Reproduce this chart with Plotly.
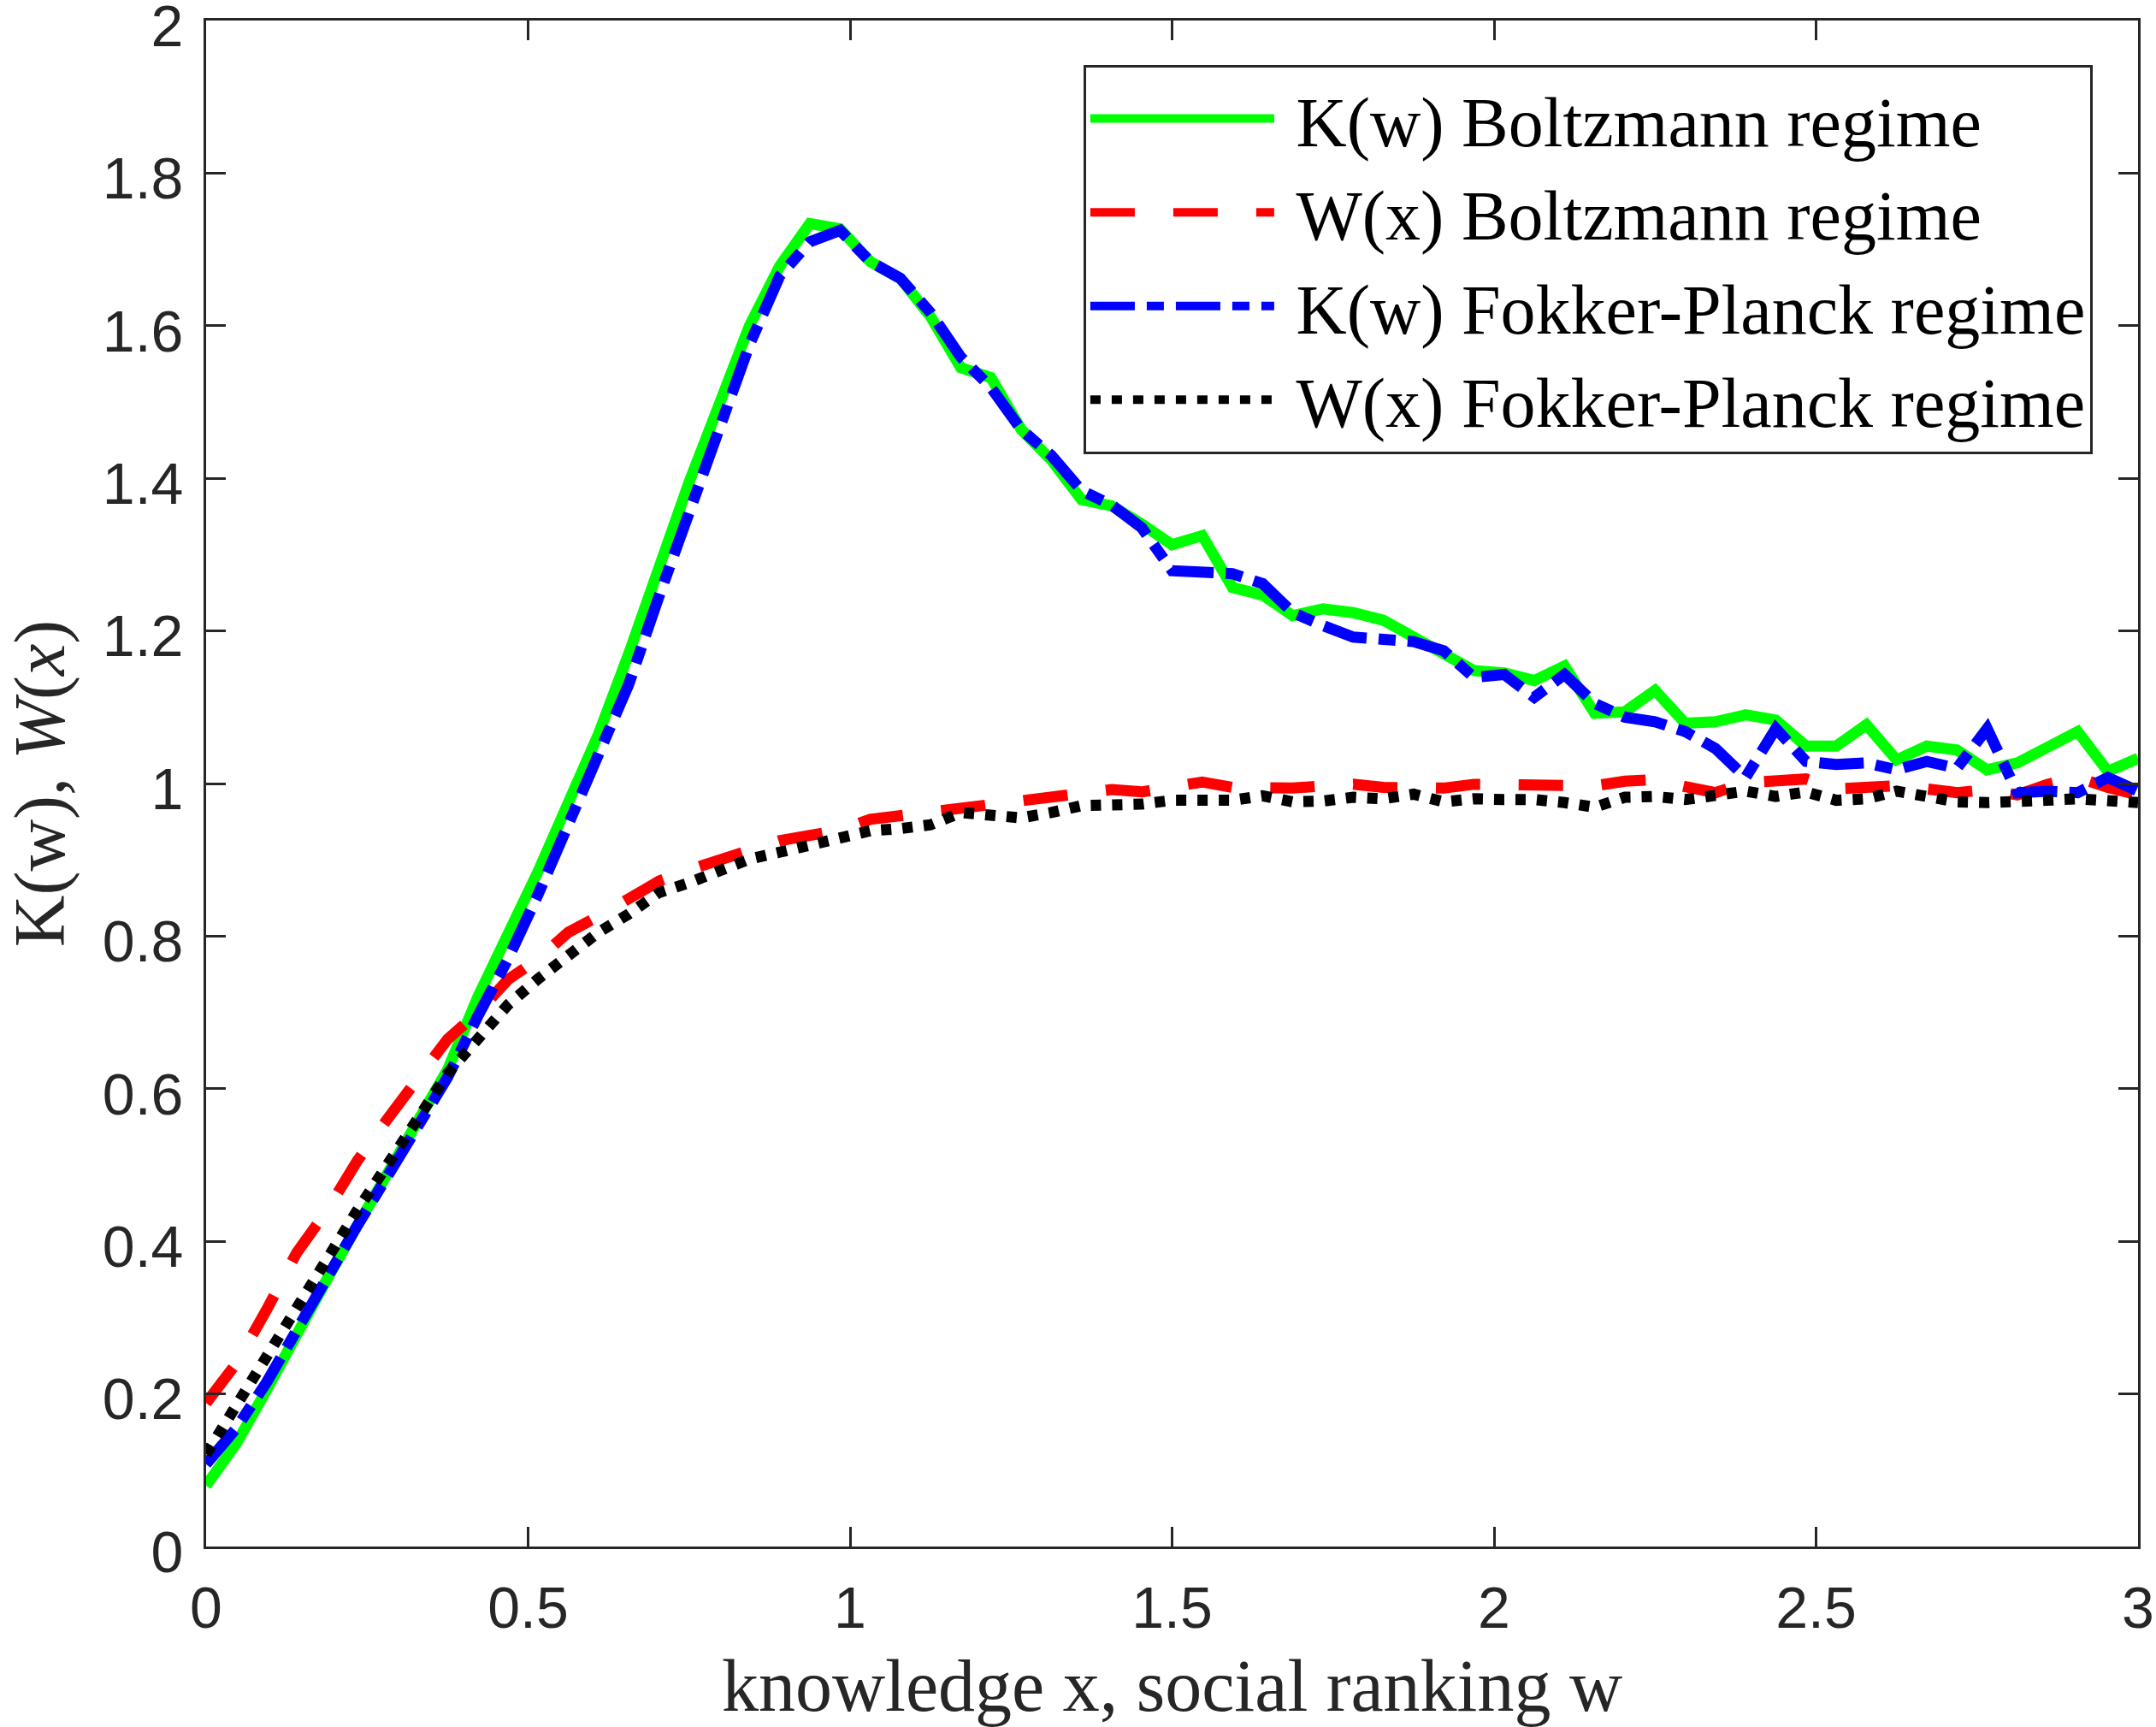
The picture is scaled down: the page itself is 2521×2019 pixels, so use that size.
import numpy as np
import plotly.graph_objects as go

# grid: 65 points from 0 to 3 (step 3/64)
x = np.linspace(0, 3, 65)

k_boltz = [0.08, 0.135, 0.205, 0.28, 0.35, 0.42, 0.49, 0.555, 0.625, 0.72,
           0.80, 0.885, 0.975, 1.065, 1.17, 1.285, 1.395, 1.497, 1.60, 1.678,
           1.734, 1.727, 1.684, 1.662, 1.612, 1.545, 1.532, 1.464, 1.424, 1.372,
           1.364, 1.340, 1.313, 1.325, 1.257, 1.247, 1.220, 1.229, 1.224, 1.214,
           1.190, 1.170, 1.148, 1.145, 1.135, 1.154, 1.092, 1.094, 1.122, 1.079,
           1.081, 1.090, 1.083, 1.049, 1.049, 1.077, 1.031, 1.049, 1.044, 1.018,
           1.027, 1.048, 1.068, 1.016, 1.033]

w_boltz = [0.188, 0.24, 0.31, 0.385, 0.44, 0.505, 0.56, 0.61, 0.665, 0.70,
           0.743, 0.77, 0.805, 0.826, 0.85, 0.872, 0.887, 0.90, 0.915, 0.925,
           0.932, 0.939, 0.953, 0.958, 0.965, 0.970, 0.975, 0.980, 0.985, 0.988,
           0.992, 0.989, 0.994, 1.002, 0.995, 0.994, 0.994, 0.997, 0.999, 0.995,
           0.996, 0.994, 0.999, 0.999, 0.999, 0.997, 0.997, 1.003, 1.005, 0.996,
           0.988, 1.001, 1.004, 1.006, 0.993, 0.995, 0.997, 0.993, 0.988, 0.992,
           0.985, 0.999, 1.008, 0.995, 0.985]

k_fp = [0.108, 0.155, 0.215, 0.285, 0.35, 0.42, 0.485, 0.55, 0.615, 0.695,
        0.77, 0.855, 0.945, 1.035, 1.13, 1.245, 1.36, 1.465, 1.575, 1.665,
        1.710, 1.725, 1.684, 1.662, 1.617, 1.559, 1.519, 1.464, 1.430, 1.384,
        1.365, 1.335, 1.279, 1.277, 1.275, 1.262, 1.224, 1.207, 1.192, 1.189,
        1.186, 1.174, 1.139, 1.143, 1.113, 1.143, 1.105, 1.087, 1.081, 1.068,
        1.046, 1.008, 1.072, 1.029, 1.025, 1.027, 1.018, 1.029, 1.020, 1.072,
        0.988, 0.990, 0.988, 1.008, 0.990]

w_fp = [0.121, 0.185, 0.25, 0.315, 0.38, 0.44, 0.50, 0.56, 0.62, 0.665,
        0.71, 0.744, 0.775, 0.805, 0.829, 0.857, 0.870, 0.885, 0.901, 0.910,
        0.919, 0.929, 0.938, 0.941, 0.946, 0.962, 0.959, 0.955, 0.962, 0.971,
        0.972, 0.973, 0.978, 0.979, 0.978, 0.984, 0.976, 0.977, 0.982, 0.980,
        0.986, 0.976, 0.980, 0.979, 0.979, 0.975, 0.969, 0.982, 0.983, 0.979,
        0.986, 0.990, 0.983, 0.989, 0.978, 0.980, 0.990, 0.983, 0.976, 0.975,
        0.975, 0.978, 0.980, 0.978, 0.975]

xticks = [0, 0.5, 1, 1.5, 2, 2.5, 3]
xtick_text = ["0", "0.5", "1", "1.5", "2", "2.5", "3"]
yticks = [0, 0.2, 0.4, 0.6, 0.8, 1, 1.2, 1.4, 1.6, 1.8, 2]
ytick_text = ["0", "0.2", "0.4", "0.6", "0.8", "1", "1.2", "1.4", "1.6", "1.8", "2"]

LW = 13
sp = "\u00a0"  # small gap between legend sample and label
fig = go.Figure()
fig.add_trace(go.Scatter(x=x, y=k_boltz, mode="lines", name=sp + "K(w) Boltzmann regime",
                         line=dict(color="#00ff00", width=LW)))
fig.add_trace(go.Scatter(x=x, y=w_boltz, mode="lines", name=sp + "W(x) Boltzmann regime",
                         line=dict(color="#ff0000", width=LW, dash="52px,45px")))
fig.add_trace(go.Scatter(x=x, y=k_fp, mode="lines", name=sp + "K(w) Fokker-Planck regime",
                         line=dict(color="#0000ff", width=LW, dash="52px,14px,20px,14px")))
fig.add_trace(go.Scatter(x=x, y=w_fp, mode="lines", name=sp + "W(x) Fokker-Planck regime",
                         line=dict(color="#000000", width=LW, dash="12px,13px")))

axis_col = "#262626"
common = dict(showline=True, linecolor=axis_col, linewidth=3, mirror="ticks",
              ticks="inside", ticklen=23, tickwidth=3, tickcolor=axis_col,
              showgrid=False, zeroline=False, ticklabeloverflow="allow",
              automargin=False,
              tickfont=dict(family="Liberation Sans", size=68, color=axis_col))

fig.update_xaxes(range=[0, 3], tickvals=xticks, ticktext=xtick_text,
                 ticklabelstandoff=10,
                 title=dict(text="knowledge x, social ranking w", standoff=30,
                            font=dict(family="Liberation Serif", size=86, color=axis_col)),
                 **common)
fig.update_yaxes(range=[0, 2], tickvals=yticks, ticktext=ytick_text,
                 ticklabelstandoff=10, ticklabelshift=6,
                 title=dict(text="K(w), <i>W</i>(<i>x</i>)", standoff=30,
                            font=dict(family="Liberation Serif", size=84, color=axis_col)),
                 **common)

fig.update_layout(
    width=2521, height=2019,
    margin=dict(l=241, r=21, t=24, b=211),
    paper_bgcolor="white", plot_bgcolor="white",
    showlegend=True,
    legend=dict(x=0.9765, y=0.971, xanchor="right", yanchor="top",
                bgcolor="white", bordercolor=axis_col, borderwidth=3,
                itemwidth=215,
                font=dict(family="Liberation Serif", size=82, color="black")),
)

fig.write_html("out.html", config={"displayModeBar": False},
               post_script="document.body.style.margin='0';document.body.style.overflow='hidden';")
